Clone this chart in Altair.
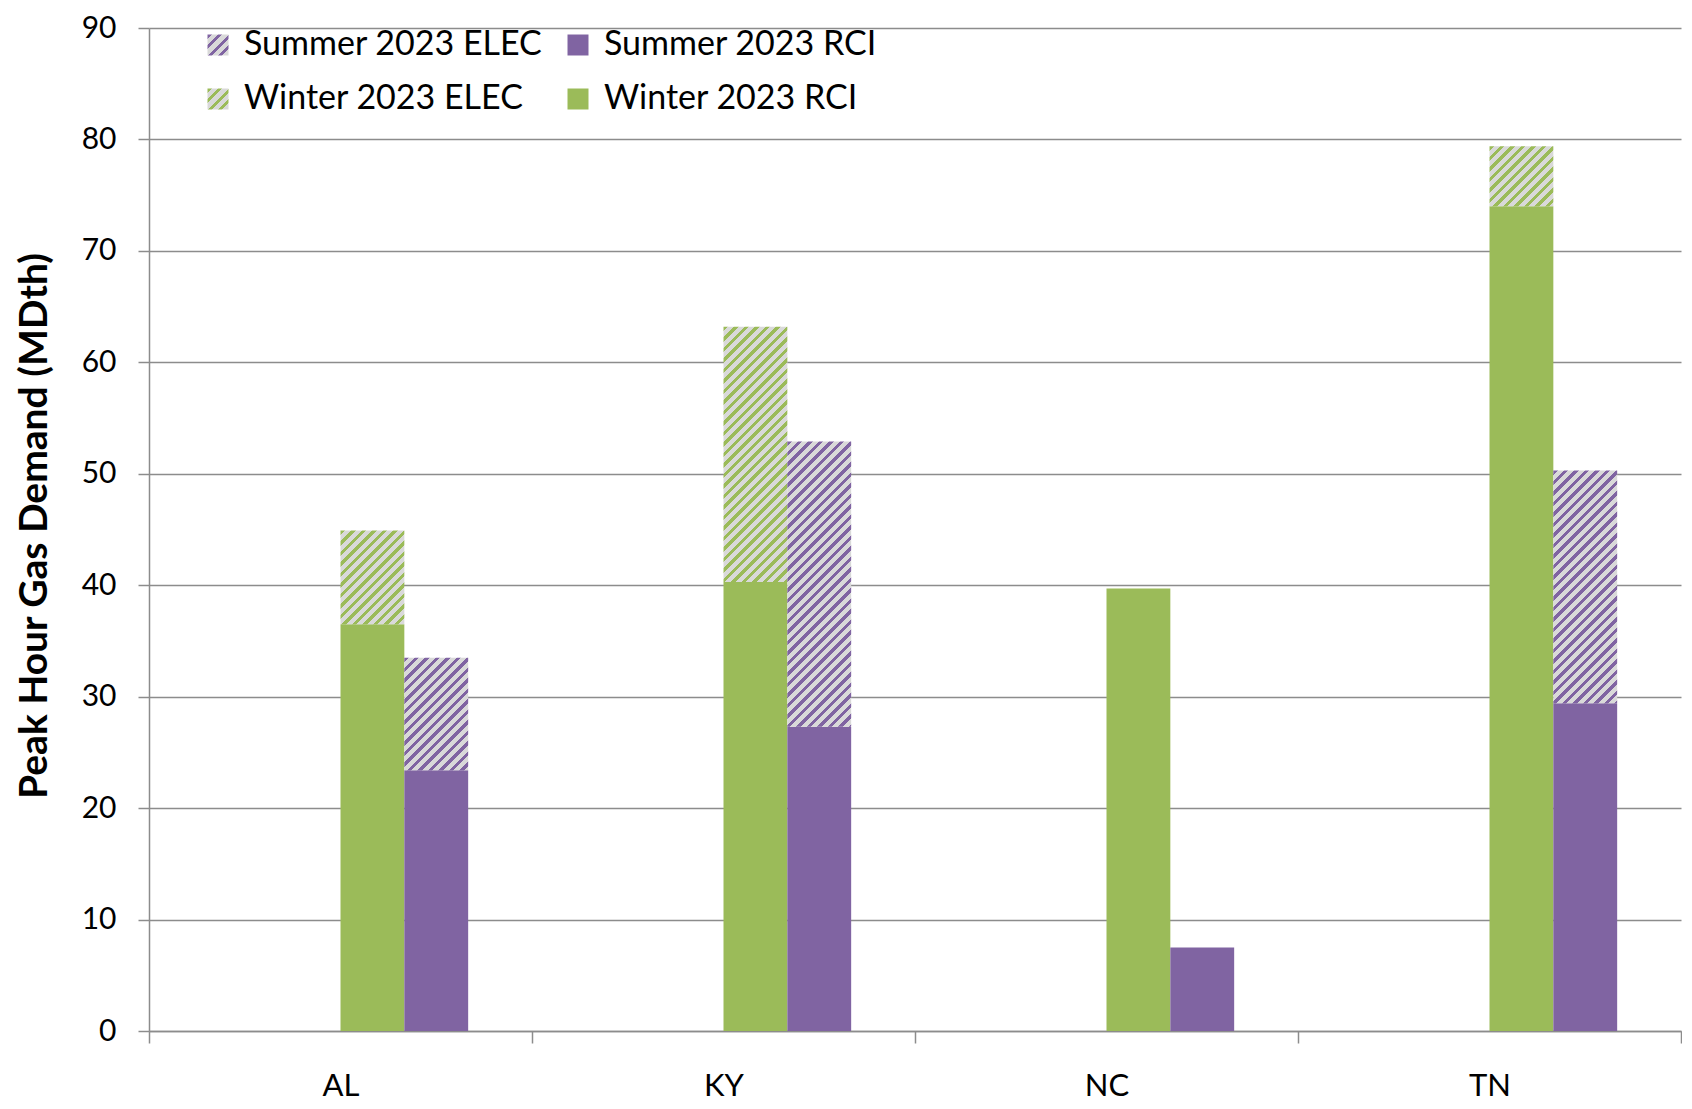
import altair as alt
import pandas as pd

# ---- data ----
states = ["AL", "KY", "NC", "TN"]
winter_rci = [36.5, 40.3, 39.7, 74.0]
winter_elec = [8.4, 22.9, 0.0, 5.4]
summer_rci = [23.4, 27.3, 7.5, 29.4]
summer_elec = [10.1, 25.6, 0.0, 20.9]
series_names = ["Summer 2023 ELEC", "Summer 2023 RCI", "Winter 2023 ELEC", "Winter 2023 RCI"]
y_ticks = [0, 10, 20, 30, 40, 50, 60, 70, 80, 90]

# ---- styles ----
PURPLE = "#8064a2"
GREEN = "#9bbb59"
HATCH_BG = "#d9d9d9"
GRAY = "#8c8c8c"
FONT = "Lato"
W = 1532
H = 1003
YMAX = 90
PERIOD = 10.5
FRAC = 0.42

rows = []
for i, s in enumerate(states):
    for season, rci, elec in (("Winter", winter_rci[i], winter_elec[i]),
                              ("Summer", summer_rci[i], summer_elec[i])):
        rows.append(dict(state=s, season=season, kind="RCI",
                         series=f"{season} 2023 RCI", base=0.0, top=rci))
        rows.append(dict(state=s, season=season, kind="ELEC",
                         series=f"{season} 2023 ELEC", base=rci, top=rci + elec))
df = pd.DataFrame(rows)


def stripe_stops(color, L, period=PERIOD, frac=FRAC):
    stops = []
    k = 0
    while k * period < L:
        a = k * period / L
        b = min((k * period + frac * period) / L, 1.0)
        c = min((k + 1) * period / L, 1.0)
        stops += [dict(offset=round(a, 5), color=color),
                  dict(offset=round(b, 5), color=color),
                  dict(offset=round(b, 5), color=HATCH_BG),
                  dict(offset=round(c, 5), color=HATCH_BG)]
        k += 1
    return stops


def hatch_gradient(color, w, h):
    L = w + h
    dx = w * L / (w * w + h * h)
    dy = h * L / (w * w + h * h)
    return {"gradient": "linear", "x1": 0, "y1": 0, "x2": round(dx, 5), "y2": round(dy, 5),
            "stops": stripe_stops(color, L)}


def legend_expr(color):
    stops = stripe_stops(color, 42, period=10.5)
    s = ",".join("{offset:%s,color:'%s'}" % (st["offset"], st["color"]) for st in stops)
    return "{gradient:'linear',x1:0,y1:0,x2:1,y2:1,stops:[" + s + "]}"


x_enc = alt.X("state:N",
              scale=alt.Scale(domain=states, paddingInner=0, paddingOuter=0),
              axis=alt.Axis(title=None, tickBand="extent", tickSize=12, labelPadding=28,
                            labelFont=FONT, labelFontSize=31, labelColor="black", labelAngle=0,
                            domainColor=GRAY, domainWidth=1.5, tickColor=GRAY, tickWidth=1.5,
                            grid=False))
xoff_enc = alt.XOffset("season:N",
                       scale=alt.Scale(domain=["p1", "p2", "p3", "Winter", "Summer", "p4"],
                                       paddingInner=0, paddingOuter=0))
y_enc = alt.Y("base:Q",
              scale=alt.Scale(domain=[0, YMAX], nice=False),
              axis=alt.Axis(values=y_ticks, title="Peak Hour Gas Demand (MDth)",
                            titleFont=FONT, titleFontWeight="bold", titleFontSize=39,
                            titleColor="black", titleAngle=270, titleX=-115, titleY=H / 2 - 4,
                            titleAlign="center", titleBaseline="middle",
                            labelFont=FONT, labelFontSize=30, labelColor="black",
                            labelPadding=22, tickSize=11, tickColor=GRAY, tickWidth=1.5,
                            domainColor=GRAY, domainWidth=1.5,
                            grid=True, gridColor=GRAY, gridWidth=1.5))
enc = dict(x=x_enc, xOffset=xoff_enc, y=y_enc, y2="top:Q")

base = alt.Chart(df)

color_scale = alt.Scale(domain=series_names,
                        range=[{"expr": legend_expr(PURPLE)}, PURPLE,
                               {"expr": legend_expr(GREEN)}, GREEN])

rci_layer = base.transform_filter(alt.datum.kind == "RCI").mark_bar().encode(
    **enc,
    color=alt.Color("series:N", scale=color_scale,
                    legend=alt.Legend(title=None, orient="none", legendX=52, legendY=0,
                                      direction="horizontal",
                                      columns=2, columnPadding=18, rowPadding=20,
                                      symbolType="square", symbolSize=441,
                                      symbolStrokeWidth=0, symbolOpacity=1,
                                      labelFont=FONT, labelFontSize=34, labelColor="black",
                                      labelOffset=9, padding=0, labelLimit=400)))

layers = [rci_layer]
w_px = W / 4 / 6
for i, s in enumerate(states):
    for season, elec, color in (("Winter", winter_elec[i], GREEN),
                                ("Summer", summer_elec[i], PURPLE)):
        if elec > 0:
            grad = hatch_gradient(color, w_px, elec * H / YMAX)
            lyr = base.transform_filter(
                (alt.datum.state == s) & (alt.datum.series == f"{season} 2023 ELEC")
            ).mark_bar(fill=grad, strokeWidth=0).encode(**enc)
            layers.append(lyr)

chart = alt.layer(*layers).properties(
    width=W, height=H,
    padding={"left": 6, "top": 5, "right": 0, "bottom": 0},
).configure_view(stroke=None)

chart.save("out.html", embed_options={"renderer": "svg", "actions": False})
